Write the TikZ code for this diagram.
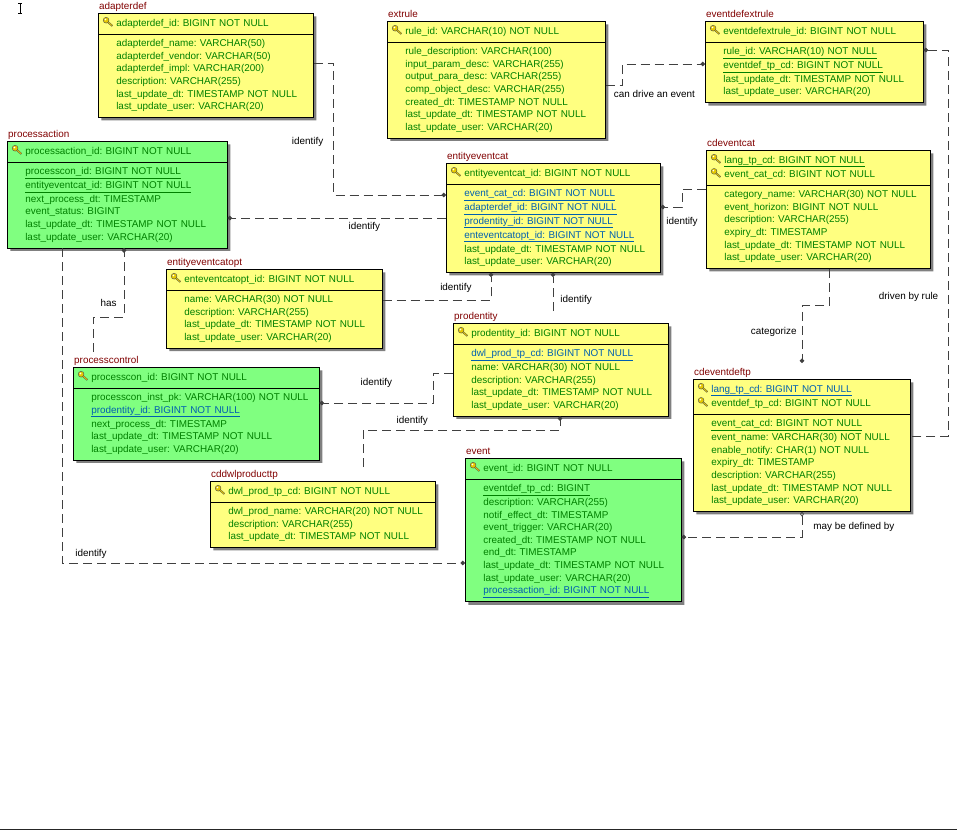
\documentclass[tikz,border=0pt]{standalone}
\usepackage{fontspec}
\setmainfont{Liberation Sans}
\usetikzlibrary{shapes.multipart,shadows,arrows.meta,positioning}

\definecolor{entyellow}{RGB}{255,255,128}
\definecolor{entgreen}{RGB}{128,255,128}
\definecolor{attrgreen}{RGB}{0,128,0}
\definecolor{fkblue}{RGB}{0,96,176}
\definecolor{titlered}{RGB}{128,0,0}
\definecolor{keygold}{RGB}{230,200,0}
\definecolor{relgray}{RGB}{64,64,64}

\newcommand{\entfont}{\fontsize{9.9}{12.65}\selectfont\frenchspacing}
\newcommand{\pkicon}{\tikz[baseline=0pt,x=1pt,y=1pt,line width=0.4pt]{%
  \draw[black!70,line width=1.8pt] (4.5,4.5) -- (9.5,0.3);
  \draw[keygold,line width=0.9pt] (4.5,4.5) -- (9.3,0.5);
  \filldraw[fill=keygold,draw=black!70] (3.2,6) circle (2.9);
  \fill[white] (2.5,6.7) circle (0.9);}}
\newcommand{\pkkey}{\leavevmode\llap{\pkicon\hspace{3pt}}}
% rows of one table part, indented, one strut per line
\newcommand{\entrows}[1]{\color{attrgreen}\leftskip=16pt\relax\everypar{\strut}\strut #1\par}
\newcommand{\fk}[1]{\underline{#1}}
\newcommand{\fkb}[1]{\textcolor{fkblue}{\underline{#1}}}

\begin{document}
\begin{tikzpicture}[x=1pt,y=-1pt,
    ent/.style={rectangle split, rectangle split parts=2, draw=black, line width=0.6pt,
      text width=#1, inner xsep=2pt, inner ysep=3.5pt, align=left, anchor=north west,
      font=\entfont, text=attrgreen,
      general shadow={fill=black!50, shadow xshift=3pt, shadow yshift=-3pt}},
    yent/.style={ent=#1, fill=entyellow},
    gent/.style={ent=#1, fill=entgreen},
    title/.style={font=\entfont, text=titlered, inner sep=1pt, text height=1.6ex, text depth=0.4ex},
    rel/.style={draw=relgray, line width=0.7pt, dash pattern=on 9pt off 5pt},
    lbl/.style={font=\entfont, text=black, inner sep=1pt},
    dot/.style={-{Circle[length=4.5pt]}}]
    \useasboundingbox (0,0) rectangle (959,831);

    % entities
    \node[yent=211pt] (adapt) at (98,13) {\entrows{\pkkey adapterdef\_id: BIGINT NOT NULL}
        \nodepart{two}\entrows{adapterdef\_name: VARCHAR(50)\\ adapterdef\_vendor: VARCHAR(50)\\
        adapterdef\_impl: VARCHAR(200)\\ description: VARCHAR(255)\\
        last\_update\_dt: TIMESTAMP NOT NULL\\ last\_update\_user: VARCHAR(20)}};
    \node[yent=214pt] (extrule) at (387,21) {\entrows{\pkkey rule\_id: VARCHAR(10) NOT NULL}
        \nodepart{two}\entrows{rule\_description: VARCHAR(100)\\ input\_param\_desc: VARCHAR(255)\\
        output\_para\_desc: VARCHAR(255)\\ comp\_object\_desc: VARCHAR(255)\\
        created\_dt: TIMESTAMP NOT NULL\\ last\_update\_dt: TIMESTAMP NOT NULL\\
        last\_update\_user: VARCHAR(20)}};
    \node[yent=214pt] (edxr) at (705,21) {\entrows{\pkkey eventdefextrule\_id: BIGINT NOT NULL}
        \nodepart{two}\entrows{\fk{rule\_id: VARCHAR(10) NOT NULL}\\ \fk{eventdef\_tp\_cd: BIGINT NOT NULL}\\
        last\_update\_dt: TIMESTAMP NOT NULL\\ last\_update\_user: VARCHAR(20)}};
    \node[gent=216pt] (pact) at (7,141) {\entrows{\pkkey processaction\_id: BIGINT NOT NULL}
        \nodepart{two}\entrows{\fk{processcon\_id: BIGINT NOT NULL}\\ \fk{entityeventcat\_id: BIGINT NOT NULL}\\
        next\_process\_dt: TIMESTAMP\\ event\_status: BIGINT\\
        last\_update\_dt: TIMESTAMP NOT NULL\\ last\_update\_user: VARCHAR(20)}};
    \node[yent=210pt] (eec) at (446,163) {\entrows{\pkkey entityeventcat\_id: BIGINT NOT NULL}
        \nodepart{two}\entrows{\fkb{event\_cat\_cd: BIGINT NOT NULL}\\ \fkb{adapterdef\_id: BIGINT NOT NULL}\\
        \fkb{prodentity\_id: BIGINT NOT NULL}\\ \fkb{enteventcatopt\_id: BIGINT NOT NULL}\\
        last\_update\_dt: TIMESTAMP NOT NULL\\ last\_update\_user: VARCHAR(20)}};
    \node[yent=220pt] (cdcat) at (706,150) {\entrows{\pkkey \fk{lang\_tp\_cd: BIGINT NOT NULL}\\
        \pkkey event\_cat\_cd: BIGINT NOT NULL}
        \nodepart{two}\entrows{category\_name: VARCHAR(30) NOT NULL\\ event\_horizon: BIGINT NOT NULL\\
        description: VARCHAR(255)\\ expiry\_dt: TIMESTAMP\\
        last\_update\_dt: TIMESTAMP NOT NULL\\ last\_update\_user: VARCHAR(20)}};
    \node[yent=212pt] (eeco) at (166,269) {\entrows{\pkkey enteventcatopt\_id: BIGINT NOT NULL}
        \nodepart{two}\entrows{name: VARCHAR(30) NOT NULL\\ description: VARCHAR(255)\\
        last\_update\_dt: TIMESTAMP NOT NULL\\ last\_update\_user: VARCHAR(20)}};
    \node[gent=242pt] (pctl) at (73,367) {\entrows{\pkkey processcon\_id: BIGINT NOT NULL}
        \nodepart{two}\entrows{processcon\_inst\_pk: VARCHAR(100) NOT NULL\\ \fkb{prodentity\_id: BIGINT NOT NULL}\\
        next\_process\_dt: TIMESTAMP\\ last\_update\_dt: TIMESTAMP NOT NULL\\
        last\_update\_user: VARCHAR(20)}};
    \node[yent=211pt] (prod) at (453,323) {\entrows{\pkkey prodentity\_id: BIGINT NOT NULL}
        \nodepart{two}\entrows{\fkb{dwl\_prod\_tp\_cd: BIGINT NOT NULL}\\ name: VARCHAR(30) NOT NULL\\
        description: VARCHAR(255)\\ last\_update\_dt: TIMESTAMP NOT NULL\\
        last\_update\_user: VARCHAR(20)}};
    \node[yent=221pt] (dwltp) at (210,481) {\entrows{\pkkey dwl\_prod\_tp\_cd: BIGINT NOT NULL}
        \nodepart{two}\entrows{dwl\_prod\_name: VARCHAR(20) NOT NULL\\ description: VARCHAR(255)\\
        last\_update\_dt: TIMESTAMP NOT NULL}};
    \node[gent=212pt] (event) at (465,458) {\entrows{\pkkey event\_id: BIGINT NOT NULL}
        \nodepart{two}\entrows{\fk{eventdef\_tp\_cd: BIGINT}\\ description: VARCHAR(255)\\
        notif\_effect\_dt: TIMESTAMP\\ event\_trigger: VARCHAR(20)\\
        created\_dt: TIMESTAMP NOT NULL\\ end\_dt: TIMESTAMP\\
        last\_update\_dt: TIMESTAMP NOT NULL\\ last\_update\_user: VARCHAR(20)\\
        \fkb{processaction\_id: BIGINT NOT NULL}}};
    \node[yent=213pt] (deftp) at (693,379) {\entrows{\pkkey \fkb{lang\_tp\_cd: BIGINT NOT NULL}\\
        \pkkey eventdef\_tp\_cd: BIGINT NOT NULL}
        \nodepart{two}\entrows{\fk{event\_cat\_cd: BIGINT NOT NULL}\\ event\_name: VARCHAR(30) NOT NULL\\
        enable\_notify: CHAR(1) NOT NULL\\ expiry\_dt: TIMESTAMP\\ description: VARCHAR(255)\\
        last\_update\_dt: TIMESTAMP NOT NULL\\ last\_update\_user: VARCHAR(20)}};

    % table names
    \node[title, above right=0pt and 0pt of adapt.north west] (adapt-t) {adapterdef};
    \node[title, above right=0pt and 0pt of extrule.north west] (extrule-t) {extrule};
    \node[title, above right=0pt and 0pt of edxr.north west] (edxr-t) {eventdefextrule};
    \node[title, above right=0pt and 0pt of pact.north west] (pact-t) {processaction};
    \node[title, above right=0pt and 0pt of eec.north west] (eec-t) {entityeventcat};
    \node[title, above right=0pt and 0pt of cdcat.north west] (cdcat-t) {cdeventcat};
    \node[title, above right=0pt and 0pt of eeco.north west] (eeco-t) {entityeventcatopt};
    \node[title, above right=0pt and 0pt of pctl.north west] (pctl-t) {processcontrol};
    \node[title, above right=0pt and 0pt of prod.north west] (prod-t) {prodentity};
    \node[title, above right=0pt and 0pt of dwltp.north west] (dwltp-t) {cddwlproducttp};
    \node[title, above right=0pt and 0pt of event.north west] (event-t) {event};
    \node[title, above right=0pt and 0pt of deftp.north west] (deftp-t) {cdeventdeftp};

    % relationships
    \draw[rel, dot] ([yshift=-50pt]adapt.north east) -- ++(20,0)
        |- node[lbl, pos=0.3, left=9pt] {identify} ([yshift=-32pt]eec.north west);
    \draw[rel, dot] ([yshift=-64pt]extrule.north east) -- ++(17,0)
        node[lbl, anchor=north west, xshift=-10pt, yshift=-4pt] {can drive an event}
        |- ([yshift=-43pt]edxr.north west);
    \draw[rel, {Circle[length=4.5pt]}-] ([yshift=-29pt]edxr.north east) -- ++(25,0)
        |- node[lbl, pos=0.32, left=9pt] {driven by rule} ([yshift=-57pt]deftp.north east);
    \draw[rel, dot] ([xshift=123pt]cdcat.south west) -- ++(0,37)
        -| node[lbl, pos=0.73, left=4pt] {categorize} ([xshift=109pt, yshift=16pt]deftp.north west);
    \draw[rel, {Diamond[open, length=5pt, width=4pt]}-{Circle[length=4.5pt]}] ([xshift=109pt]deftp.south west)
        |- node[lbl, pos=0.3, right=10pt] {may be defined by} ([yshift=-79pt]event.north east);
    \draw[rel, dot] ([xshift=55pt]pact.south west)
        |- node[lbl, pos=0.536, above=3pt] {identify} ([yshift=-105pt]event.north west);
    \draw[rel, dot] ([xshift=20pt, yshift=15pt]pctl.north west) -- ++(0,-35)
        -| node[lbl, pos=0.6, left=6pt] {has} ([xshift=117pt]pact.south west);
    \draw[rel, dot] ([yshift=-31pt]eeco.north east)
        -| node[lbl, pos=0.72, left=18pt] {identify} ([xshift=45pt]eec.south west);
    \draw[rel, dot] ([xshift=100pt, yshift=12pt]prod.north west)
        -- node[lbl, pos=0.3, right=6pt] {identify} ([xshift=107pt]eec.south west);
    \draw[rel, dot] ([yshift=-50pt]prod.north west) -- ++(-20,0)
        |- node[lbl, pos=0.75, above=14pt] {identify} ([yshift=-36pt]pctl.north east);
    \draw[rel, dot] ([xshift=153pt, yshift=14pt]dwltp.north west) -- ++(0,-37)
        -| node[lbl, pos=0.125, above=3pt] {identify} ([xshift=107pt]prod.south west);
    \draw[rel, dot] ([yshift=-39pt]cdcat.north west) -- ++(-24,0)
        |- node[lbl, pos=0.5, below=9pt] {identify} ([yshift=-44pt]eec.north east);
    \draw[rel, dot] ([yshift=-55pt]eec.north west)
        -- node[lbl, pos=0.374, below=3pt] {identify} ([yshift=-77pt]pact.north east);

    % cursor mark and page rule
    \draw[line width=0.6pt] (20,3) -- (20,13) (18,3) -- (22,3) (18,13) -- (22,13);
    \draw[line width=1.2pt, black!85] (0,829.5) -- (957,829.5);
\end{tikzpicture}
\end{document}
